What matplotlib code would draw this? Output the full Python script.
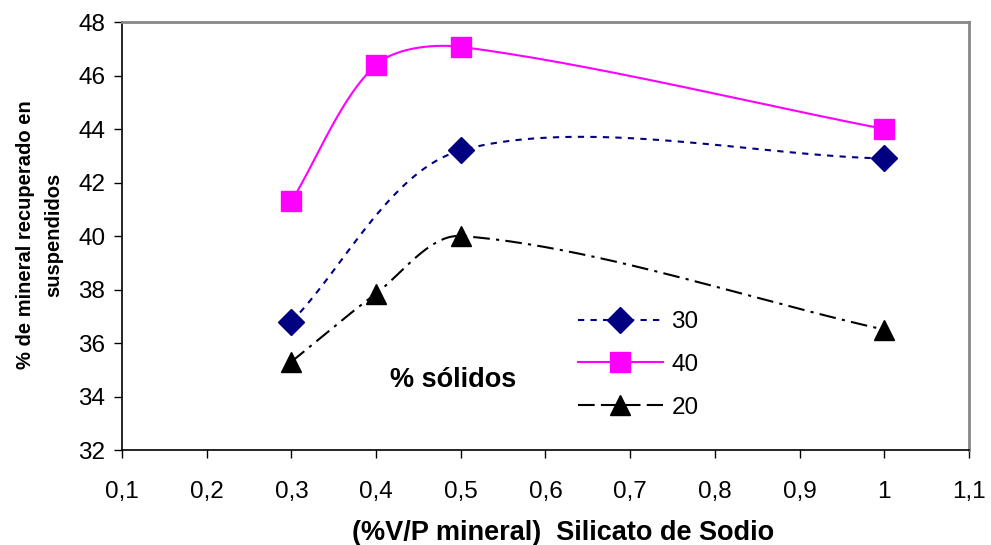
import numpy as np
import matplotlib
matplotlib.use("Agg")
import matplotlib.pyplot as plt
from matplotlib.lines import Line2D

plt.rcParams['font.family'] = ['Liberation Sans', 'DejaVu Sans']

# % sólidos series: x = silicato de sodio (%V/P mineral)
x_30 = [0.3, 0.5, 1.0]
y_30 = [36.8, 43.2, 42.9]
x_40 = [0.3, 0.4, 0.5, 1.0]
y_40 = [41.3, 46.4, 47.07, 44.0]
x_20 = [0.3, 0.4, 0.5, 1.0]
y_20 = [35.3, 37.85, 40.0, 36.5]

xticks = [0.1, 0.2, 0.3, 0.4, 0.5, 0.6, 0.7, 0.8, 0.9, 1.0, 1.1]
xticklabels = ['0,1', '0,2', '0,3', '0,4', '0,5', '0,6', '0,7', '0,8', '0,9', '1', '1,1']
yticks = [32, 34, 36, 38, 40, 42, 44, 46, 48]

# pixels per data unit, used so the smoothing behaves like it would on screen
SX, SY = 847.0, 26.75


def smooth(xs, ys, n=50, k=0.3):
    p = np.column_stack([np.asarray(xs) * SX, np.asarray(ys) * SY])
    m = len(p)
    out = [p[0]]
    t = np.linspace(0, 1, n)[1:, None]

    def tangent(i):
        a = p[i - 1] if i > 0 else p[i]
        b = p[i + 1] if i + 1 < m else p[i]
        d = b - a
        return d / np.linalg.norm(d)

    for i in range(m - 1):
        L = np.linalg.norm(p[i + 1] - p[i]) * k
        c1 = p[i] + tangent(i) * L
        c2 = p[i + 1] - tangent(i + 1) * L
        seg = ((1 - t) ** 3) * p[i] + 3 * ((1 - t) ** 2) * t * c1 \
            + 3 * (1 - t) * t ** 2 * c2 + t ** 3 * p[i + 1]
        out.extend(seg)
    out = np.array(out)
    return out[:, 0] / SX, out[:, 1] / SY


fig = plt.figure(figsize=(9.91, 5.45), dpi=100)
ax = fig.add_axes([0.1231, 0.1743, 0.8547, 0.7853])

navy = '#000080'
magenta = '#FF00FF'
lw = 1.5
dash_30 = (0, (3, 3))
dash_20 = (0, (8, 3, 1.5, 3))

sx, sy = smooth(x_30, y_30)
ax.plot(sx, sy, color=navy, lw=lw, linestyle=dash_30)
ax.plot(x_30, y_30, 'D', color=navy, ms=13, mec=navy, ls='none', zorder=3)

sx, sy = smooth(x_40, y_40)
ax.plot(sx, sy, color=magenta, lw=lw)
ax.plot(x_40, y_40, 's', color=magenta, ms=14, mec=magenta, ls='none', zorder=3)

sx, sy = smooth(x_20, y_20)
ax.plot(sx, sy, color='black', lw=lw, linestyle=dash_20)
ax.plot(x_20, y_20, '^', color='black', ms=15, ls='none', zorder=3)

ax.set_xlim(0.1, 1.1)
ax.set_ylim(32, 48)
ax.set_xticks(xticks)
ax.set_xticklabels(xticklabels)
ax.set_yticks(yticks)
ax.tick_params(direction='out', length=6, width=1, labelsize=17.5)
ax.tick_params(axis='x', pad=16)
ax.tick_params(axis='y', pad=6)

for s in ('left', 'bottom'):
    ax.spines[s].set_color('black')
    ax.spines[s].set_linewidth(1.2)
for s in ('top', 'right'):
    ax.spines[s].set_color('#888888')
    ax.spines[s].set_linewidth(2)

fig.text(563 / 991, 1 - 533 / 545, '(%V/P mineral)  Silicato de Sodio',
         fontsize=19.5, fontweight='bold', ha='center', va='center')
fig.text(40 / 991, 1 - 235 / 545, '% de mineral recuperado en\nsuspendidos',
         fontsize=14.5, fontweight='bold', ha='center', va='center',
         rotation=90, multialignment='center', linespacing=1.6)

handles = [
    Line2D([], [], color=navy, lw=lw, linestyle=dash_30, marker='D', ms=13),
    Line2D([], [], color=magenta, lw=lw, marker='s', ms=14),
    Line2D([], [], color='black', lw=lw, linestyle=(0, (8, 3)), marker='^', ms=15),
]
ax.legend(handles, ['30', '40', '20'], loc='center left', bbox_to_anchor=(0.538, 0.199),
          frameon=False, fontsize=17.5, handlelength=3.5, labelspacing=0.85,
          handletextpad=0.35, borderpad=0, borderaxespad=0)

ax.text(0.4164, 34.62, '% sólidos', fontsize=19.5, fontweight='bold', va='center', ha='left')

fig.savefig('out.png', dpi=100)
